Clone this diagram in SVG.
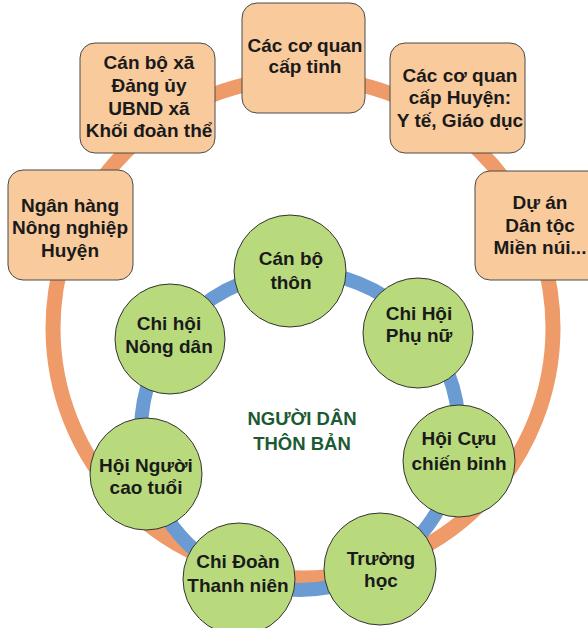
<svg xmlns="http://www.w3.org/2000/svg" width="588" height="628" viewBox="0 0 588 628">
<style>
.box{fill:#F9CA9C;stroke:#4a4a4a;stroke-width:1}
.node{fill:#B8DA7C;stroke:#333333;stroke-width:1}
.t{font-family:"Liberation Sans",Arial,sans-serif;font-weight:bold;font-size:19px;fill:#1a1a1a;text-anchor:middle}
.c{font-family:"Liberation Sans",Arial,sans-serif;font-weight:bold;font-size:18.5px;fill:#1C5A33;text-anchor:middle}
</style>
<rect width="588" height="628" fill="#ffffff"/>
<g id="connectors">
<circle cx="303" cy="328" r="250" fill="none" stroke="#EE9A69" stroke-width="15"/>
</g>
<g id="box-nganhang"><rect class="box" x="8" y="170" width="125" height="110" rx="15"/>
<text class="t" x="70" y="212">Ngân hàng</text><text class="t" x="70" y="234">Nông nghiệp</text><text class="t" x="70" y="257">Huyện</text></g>
<g id="box-canboxa"><rect class="box" x="80" y="43" width="135" height="110" rx="15"/>
<text class="t" x="149" y="69">Cán bộ xã</text><text class="t" x="149" y="92">Đảng ủy</text><text class="t" x="149" y="115">UBND xã</text><text class="t" x="149" y="137">Khối đoàn thể</text></g>
<g id="box-captinh"><rect class="box" x="242" y="3" width="123" height="110" rx="15"/>
<text class="t" x="305" y="52">Các cơ quan</text><text class="t" x="305" y="73">cấp tỉnh</text></g>
<g id="box-caphuyen"><rect class="box" x="390" y="43" width="135" height="110" rx="15"/>
<text class="t" x="460" y="82">Các cơ quan</text><text class="t" x="460" y="104">cấp Huyện:</text><text class="t" x="460" y="127">Y tế, Giáo dục</text></g>
<g id="box-duan"><rect class="box" x="475" y="171" width="130" height="109" rx="15"/>
<text class="t" x="540" y="209">Dự án</text><text class="t" x="540" y="232">Dân tộc</text><text class="t" x="540" y="254">Miền núi...</text></g>
<g id="connectors-inner">
<circle cx="300" cy="431" r="159" fill="none" stroke="#6A9BD2" stroke-width="14"/>
</g>
<g id="n-canbothon"><circle class="node" cx="290" cy="271" r="56"/>
<text class="t" x="291" y="265">Cán bộ</text><text class="t" x="291" y="289">thôn</text></g>
<g id="n-phunu"><circle class="node" cx="418" cy="333" r="55"/>
<text class="t" x="419" y="320">Chi Hội</text><text class="t" x="419" y="342">Phụ nữ</text></g>
<g id="n-cuuchienbinh"><circle class="node" cx="459" cy="461" r="56"/>
<text class="t" x="459" y="445">Hội Cựu</text><text class="t" x="459" y="470">chiến binh</text></g>
<g id="n-truonghoc"><circle class="node" cx="380" cy="569" r="56"/>
<text class="t" x="381" y="565">Trường</text><text class="t" x="381" y="587">học</text></g>
<g id="n-chidoan"><circle class="node" cx="239" cy="579" r="56"/>
<text class="t" x="238" y="568">Chi Đoàn</text><text class="t" x="238" y="592">Thanh niên</text></g>
<g id="n-caotuoi"><circle class="node" cx="146" cy="474" r="56"/>
<text class="t" x="146" y="472">Hội Người</text><text class="t" x="146" y="494">cao tuổi</text></g>
<g id="n-nongdan"><circle class="node" cx="170" cy="339" r="55"/>
<text class="t" x="169" y="330">Chi hội</text><text class="t" x="169" y="353">Nông dân</text></g>
<g id="center"><text class="c" x="302" y="425">NGƯỜI DÂN</text><text class="c" x="302" y="450">THÔN BẢN</text></g>
</svg>
